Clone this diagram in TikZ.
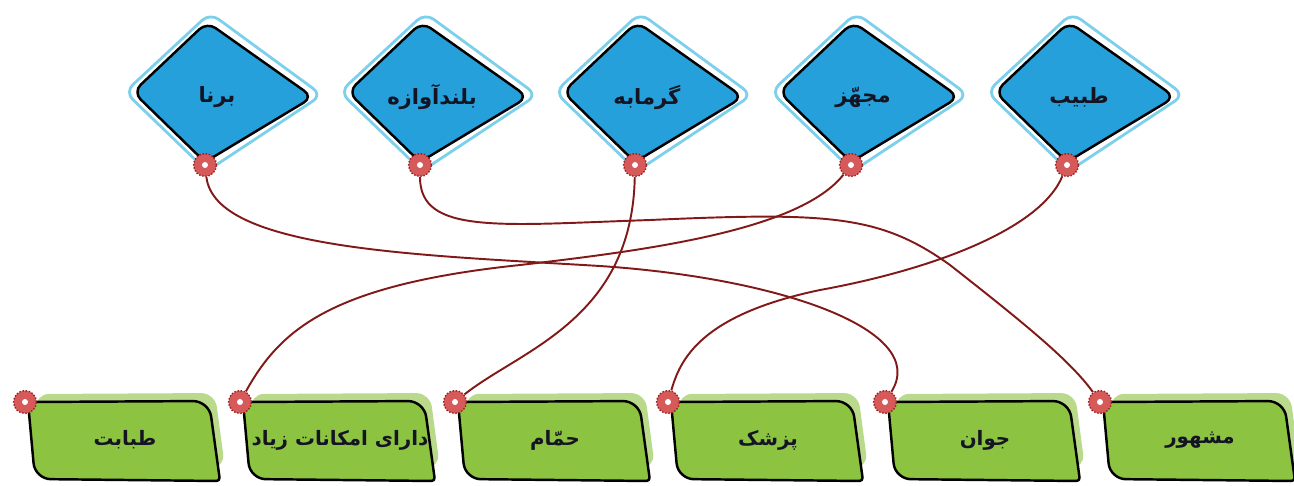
\documentclass[tikz,border=0pt]{standalone}
\usepackage{fontspec}
\newfontfamily\farsi[Script=Arabic]{DejaVu Sans}
\TeXXeTstate=1
\newcommand{\fa}[1]{{\farsi\bfseries\beginR #1\endR}}
\usetikzlibrary{positioning}
\definecolor{kiteblue}{RGB}{38,160,218}
\definecolor{kiteglow}{RGB}{125,208,236}
\definecolor{boxgreen}{RGB}{140,196,66}
\definecolor{boxglow}{RGB}{184,218,138}
\definecolor{pinred}{RGB}{214,90,90}
\definecolor{pinrim}{RGB}{150,30,30}
\definecolor{wire}{RGB}{130,25,25}
\definecolor{inkdark}{RGB}{20,20,35}

\begin{document}
\begin{tikzpicture}[x=0.02cm, y=-0.02cm,
        KITE/.style={fill=kiteblue, draw=black, line width=1.4pt, rounded corners=6pt, line join=round},
        GLOW/.style={draw=kiteglow, line width=1.6pt, rounded corners=6pt},
        BOX/.style={fill=boxgreen, draw=black, line width=1.4pt, line join=round},
        WORD/.style={font=\fontsize{12}{14}\selectfont, text=inkdark, inner sep=1pt},
        LABEL/.style={WORD, font=\fontsize{11.3}{13}\selectfont},
        PIN/.style={circle, fill=pinred, draw=pinrim, densely dotted, line width=0.8pt, minimum size=13pt, inner sep=0pt,
            path picture={\fill[white] (path picture bounding box.center) circle (1.7pt);}},
        LINK/.style={draw=wire, line width=1.1pt},
        ]
            \useasboundingbox (0,0) rectangle (1294,485);

            % top row: kites
            \foreach \bx/\name/\word in {205/barna/برنا, 420/boland/بلندآوازه, 635/garmabe/گرمابه, 851/mojahhaz/مجهّز, 1067/tabib/طبیب} {
                \draw[GLOW] (\bx+5,13) -- (\bx+117,95) -- (\bx+2,171) -- (\bx-80,92) -- cycle;
                \draw[KITE] (\bx+2,22) -- (\bx+108,97) -- (\bx,162) -- (\bx-72,92) -- cycle;
                \node[WORD] (w-\name) at (\bx+12,97) {\fa{\word}};
                \node[PIN] (p-\name) at (\bx,165) {};
            }

            % bottom row: boxes
            \foreach \dx/\name/\word in {25/tebabat/طبابت, 240/emkanat/دارای امکانات زیاد, 455/hammam/حمّام, 668/pezeshk/پزشک, 885/javan/جوان, 1100/mashhur/مشهور} {
                \fill[boxglow, rounded corners=8pt] (\dx+10,394) -- (\dx+190,393) -- (\dx+200,468) -- (\dx+16,470) -- cycle;
                \draw[BOX] (\dx+3,402) [rounded corners=9pt] -- (\dx+184,401) [rounded corners=2pt] -- (\dx+195,481)
                    [rounded corners=9pt] -- (\dx+10,479) [rounded corners=2pt] -- cycle;
                \node[LABEL] (t-\name) at (\dx+100,440) {\fa{\word}};
                \node[PIN] (q-\name) at (\dx,402) {};
            }

            % matching lines
            \draw[LINK] (p-barna) .. controls (215,250) and (420,255) .. (600,266)
                .. controls (780,278) and (930,330) .. (q-javan);
            \draw[LINK] (p-boland) .. controls (420,235) and (500,225) .. (650,220)
                .. controls (830,212) and (880,215) .. (950,265)
                .. controls (1020,320) and (1070,360) .. (q-mashhur);
            \draw[LINK] (p-garmabe) .. controls (632,320) and (520,350) .. (q-hammam);
            \draw[LINK] (p-mojahhaz) .. controls (800,230) and (650,250) .. (520,265)
                .. controls (330,285) and (280,330) .. (q-emkanat);
            \draw[LINK] (p-tabib) .. controls (1040,230) and (930,270) .. (820,290)
                .. controls (700,315) and (680,360) .. (q-pezeshk);
        \end{tikzpicture}
\end{document}
